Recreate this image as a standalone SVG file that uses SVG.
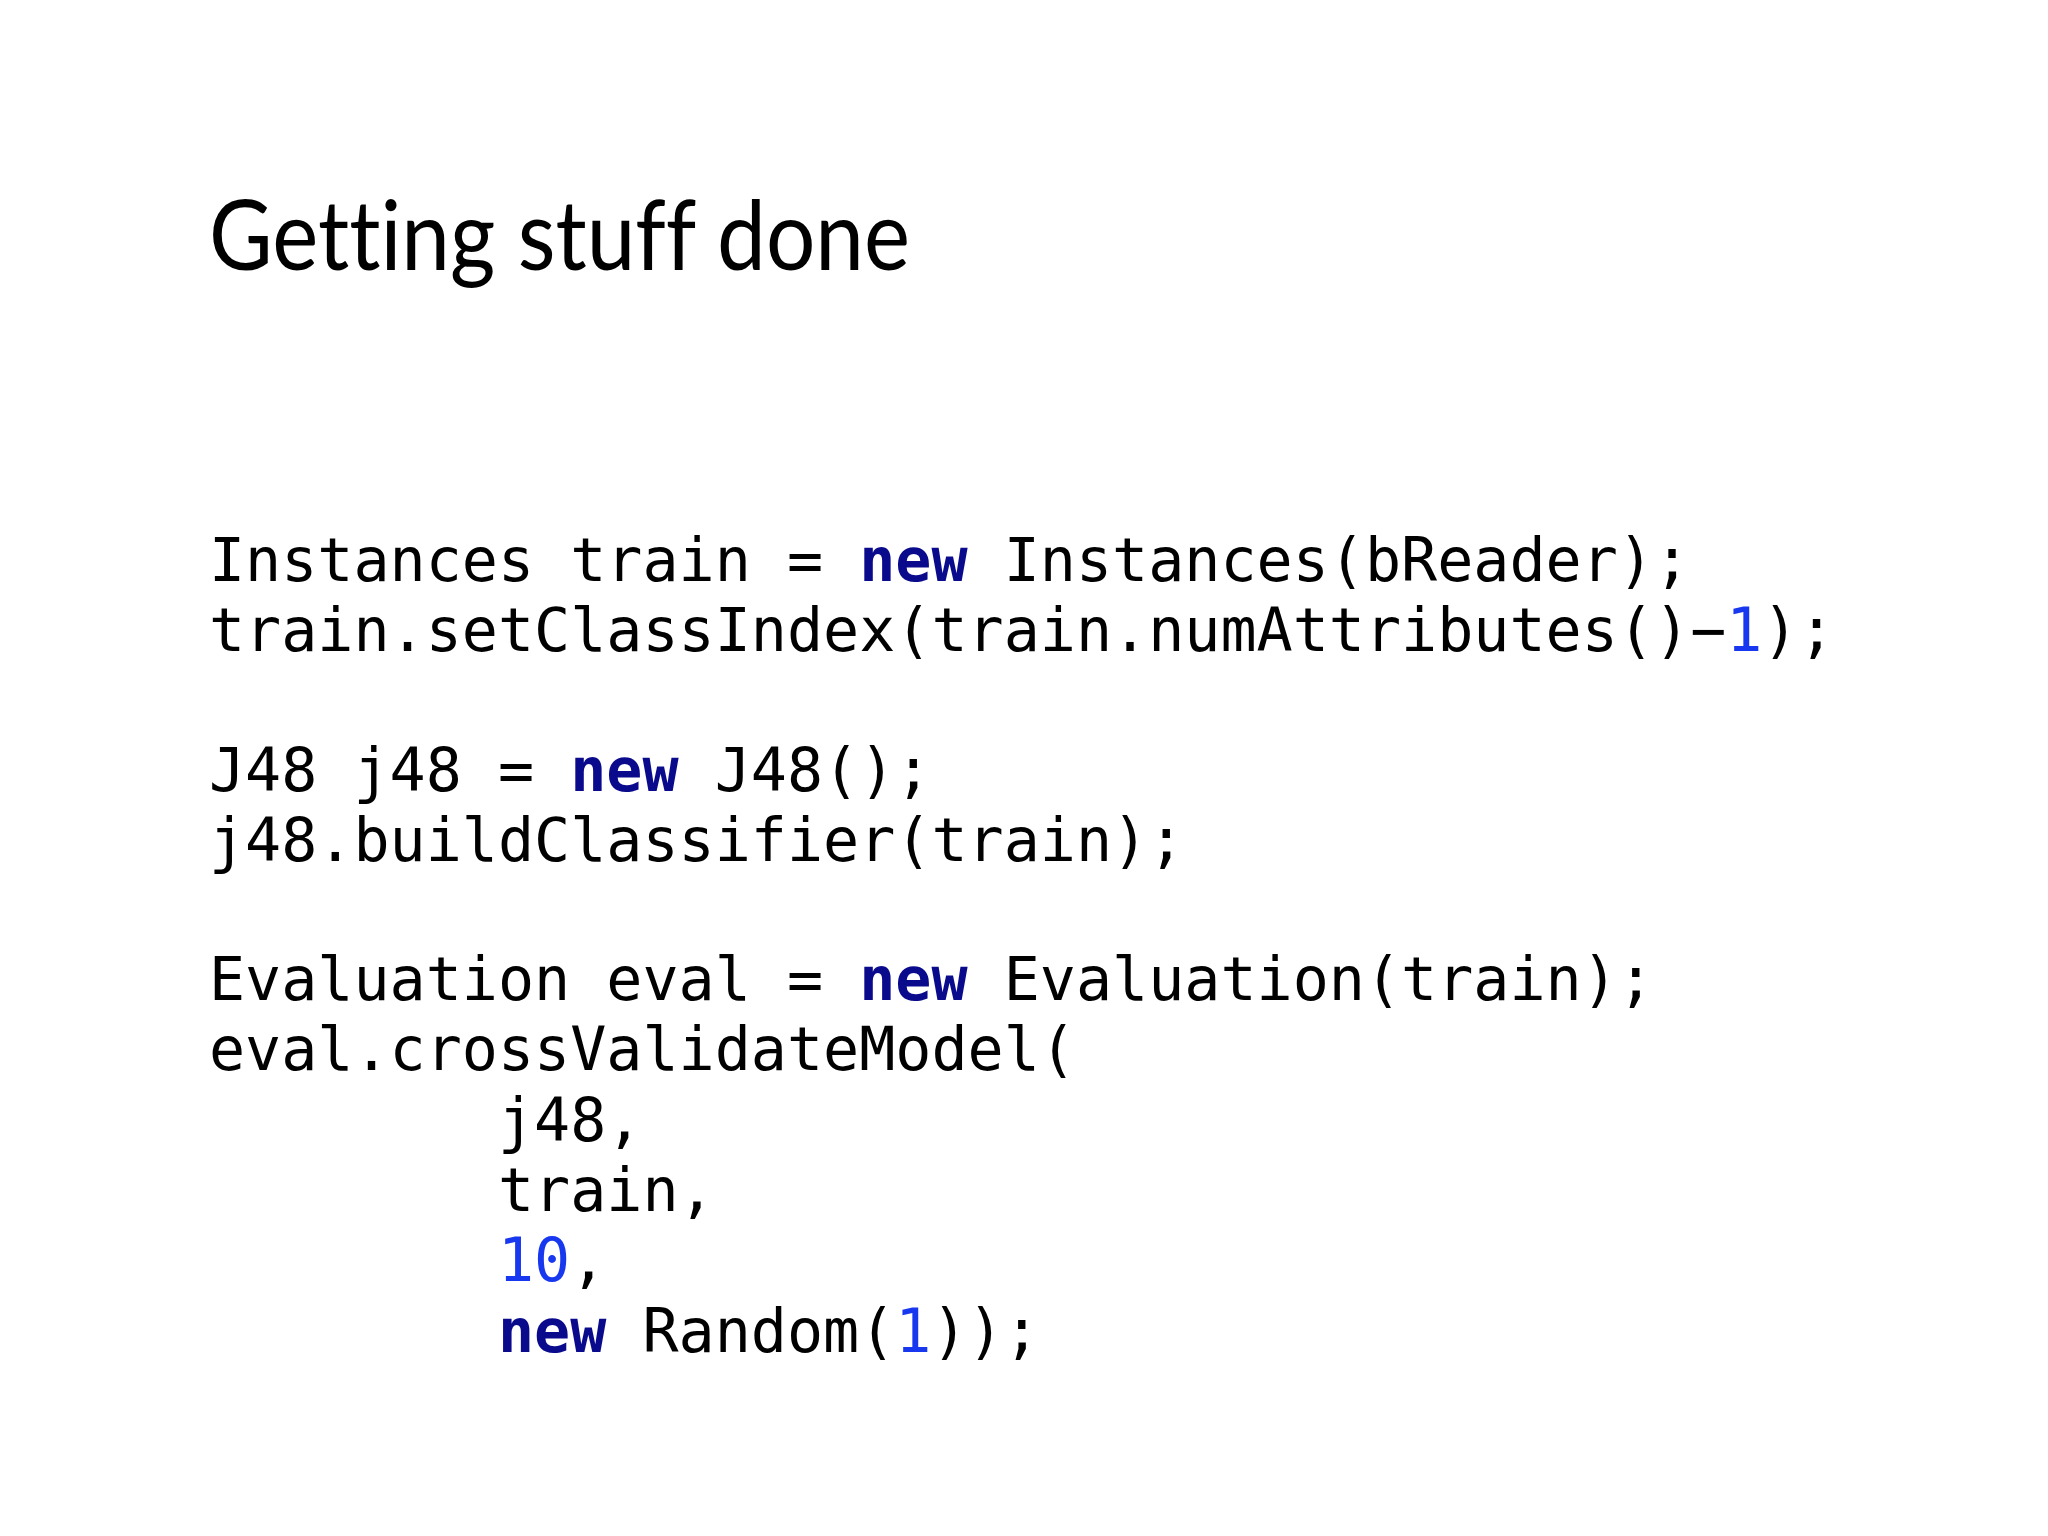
<svg xmlns="http://www.w3.org/2000/svg" width="2048" height="1536" viewBox="0 0 2048 1536">
<style>
.t{font-family:"Lato","Liberation Sans",sans-serif;font-size:96px;fill:#000;font-variant-ligatures:none}
.c{font-family:"DejaVu Sans Mono","Liberation Mono",monospace;font-size:60px;fill:#000;white-space:pre}
.k{fill:#0a0a8c;font-weight:bold}
.n{fill:#1838f0}
</style>
<rect width="2048" height="1536" fill="#fff"/>
<text class="t" x="209" y="270" textLength="701" lengthAdjust="spacingAndGlyphs">Getting stuff done</text>
<g id="code">
<text class="c" x="209" y="581" xml:space="preserve">Instances train = <tspan class="k">new</tspan> Instances(bReader);</text>
<text class="c" x="209" y="651" xml:space="preserve">train.setClassIndex(train.numAttributes()−<tspan class="n">1</tspan>);</text>
<text class="c" x="209" y="791" xml:space="preserve">J48 j48 = <tspan class="k">new</tspan> J48();</text>
<text class="c" x="209" y="861" xml:space="preserve">j48.buildClassifier(train);</text>
<text class="c" x="209" y="1000" xml:space="preserve">Evaluation eval = <tspan class="k">new</tspan> Evaluation(train);</text>
<text class="c" x="209" y="1070" xml:space="preserve">eval.crossValidateModel(</text>
<text class="c" x="498" y="1141" xml:space="preserve">j48,</text>
<text class="c" x="498" y="1211" xml:space="preserve">train,</text>
<text class="c" x="498" y="1281" xml:space="preserve"><tspan class="n">10</tspan>,</text>
<text class="c" x="498" y="1352" xml:space="preserve"><tspan class="k">new</tspan> Random(<tspan class="n">1</tspan>));</text>
</g>
</svg>
